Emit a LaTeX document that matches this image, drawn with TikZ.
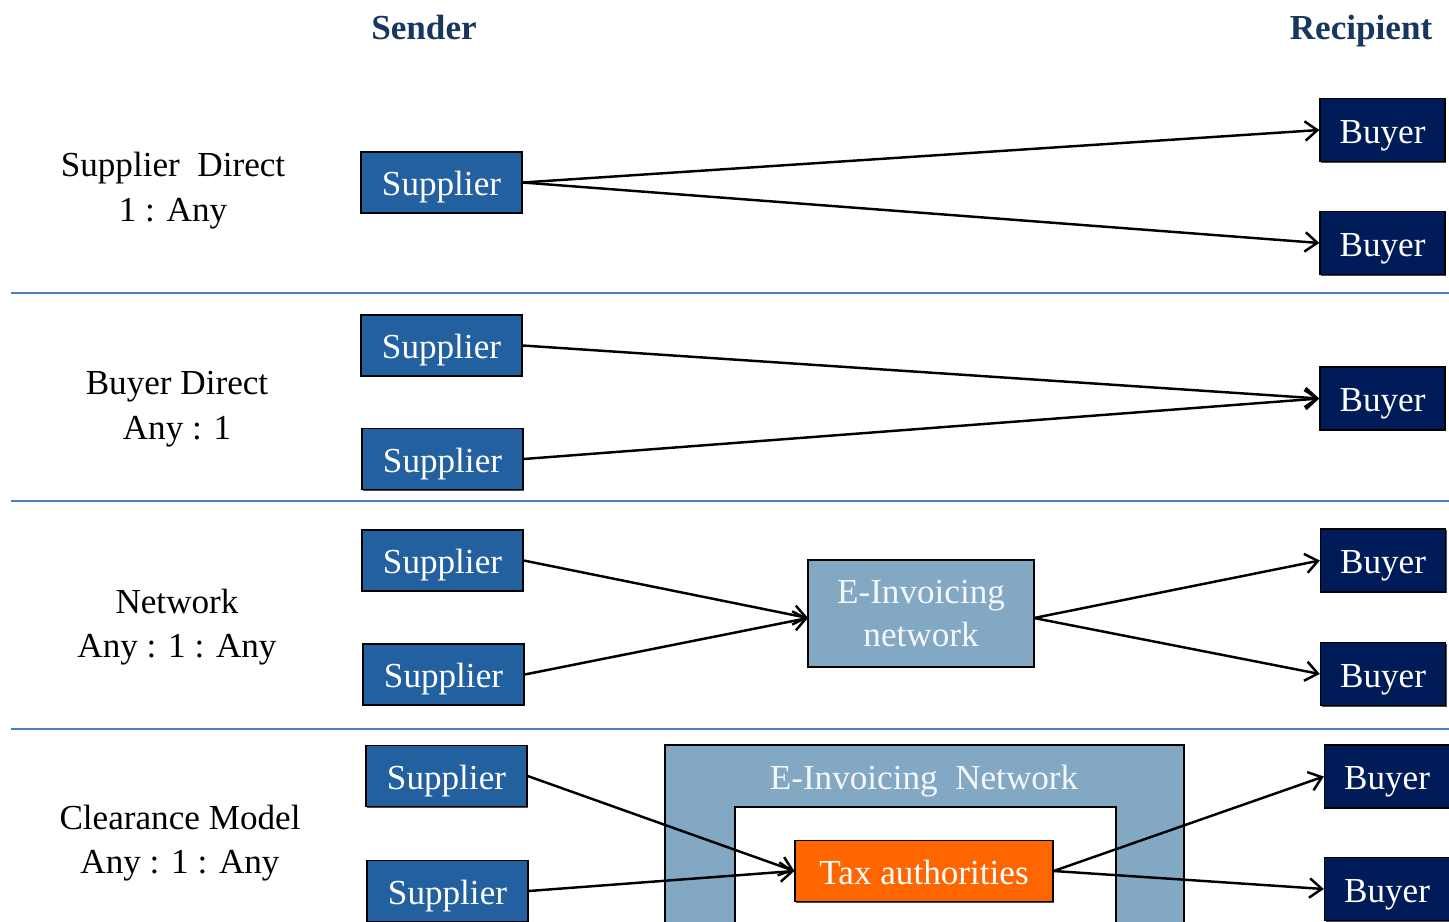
\documentclass[tikz,border=0pt]{standalone}
\usepackage{fontspec}
\setmainfont{Liberation Serif}
\usetikzlibrary{arrows.meta,shadows}
\definecolor{supblue}{HTML}{2360A0}
\definecolor{buyblue}{HTML}{001C58}
\definecolor{netblue}{HTML}{82A8C4}
\definecolor{taxorange}{HTML}{FF6600}
\definecolor{sepblue}{HTML}{4A7EBB}
\definecolor{headblue}{HTML}{17375E}
\tikzset{
  box/.style={draw=black, line width=0.8pt, text=white, inner sep=0pt,
    font=\fontsize{20}{24}\selectfont, text height=16pt, text depth=1pt,
    drop shadow={shadow xshift=0.7pt, shadow yshift=-0.7pt, opacity=0.7, fill=black}},
  supbox/.style={box, fill=supblue, minimum width=3.22cm, minimum height=1.22cm},
  buybox/.style={box, fill=buyblue, minimum width=2.5cm, minimum height=1.26cm},
  netbox/.style={box, fill=netblue, text=white!92!netblue, minimum width=4.52cm, minimum height=2.14cm, align=center, text height=, text depth=},
  taxbox/.style={box, fill=taxorange, minimum width=5.16cm, minimum height=1.22cm},
  rowlabel/.style={align=center, font=\fontsize{20}{25.5}\selectfont, inner sep=0pt},
  header/.style={font=\fontsize{20}{24}\selectfont\bfseries, text=headblue, inner sep=0pt, text height=14pt, text depth=4pt},
  sep/.style={draw=sepblue, line width=1.1pt},
  flow/.style={draw=black, line width=1.4pt, -{Straight Barb[length=7pt,width=11pt,line width=1.4pt]}},
}
\begin{document}
\begin{tikzpicture}[x=0.02cm,y=-0.02cm]
\useasboundingbox (0,0) rectangle (1449,922);
\clip (0,0) rectangle (1449,922);

% headers
\node[header] (hsend) at (424,31) {Sender};
\node[header] (hrec) at (1361,31) {Recipient};

% separators
\coordinate (s1a) at (11,293); \coordinate (s1b) at (1449,293);
\coordinate (s2a) at (11,501); \coordinate (s2b) at (1449,501);
\coordinate (s3a) at (11,729); \coordinate (s3b) at (1449,729);
\draw[sep] (s1a) -- (s1b);
\draw[sep] (s2a) -- (s2b);
\draw[sep] (s3a) -- (s3b);

% row labels
\node[rowlabel] (l1) at (173,191) {Supplier\ \ Direct\\1 : Any};
\node[rowlabel] (l2) at (177,409) {Buyer Direct\\Any : 1};
\node[rowlabel] (l3) at (177,627) {Network\\Any : 1 : Any};
\node[rowlabel] (l4) at (180,843) {Clearance Model\\Any : 1 : Any};

% row 1
\node[supbox] (s11) at (441.5,182.5) {Supplier};
\node[buybox] (b11) at (1382.5,130) {Buyer};
\node[buybox] (b12) at (1382.5,243) {Buyer};
\draw[flow] (s11.east) -- (b11.west);
\draw[flow] (s11.east) -- (b12.west);

% row 2
\node[supbox] (s21) at (441.5,345.5) {Supplier};
\node[supbox] (s22) at (442.5,459) {Supplier};
\node[buybox] (b21) at (1382.5,398.5) {Buyer};
\draw[flow] (s21.east) -- (b21.west);
\draw[flow] (s22.east) -- (b21.west);

% row 3
\node[supbox] (s31) at (442.5,560.5) {Supplier};
\node[supbox] (s32) at (443.5,674.5) {Supplier};
\node[netbox] (net) at (921,613.5) {E-Invoicing\\[1pt]network};
\node[buybox] (b31) at (1383,560.5) {Buyer};
\node[buybox] (b32) at (1383,674) {Buyer};
\coordinate (netw) at (808,618);
\coordinate (nete) at (1034,618);
\draw[flow] (s31.east) -- (netw);
\draw[flow] (s32.east) -- (netw);
\draw[flow] (nete) -- (b31.west);
\draw[flow] (nete) -- (b32.west);

% row 4
\draw[draw=black, line width=0.8pt, fill=netblue] (665,745) rectangle (1184,940);
\draw[draw=black, line width=0.8pt, fill=white] (735,807) rectangle (1116,940);
\node[text=white!92!netblue, font=\fontsize{20}{24}\selectfont, inner sep=0pt, text height=14pt, text depth=4pt] (netlabel) at (924,781) {E-Invoicing\ \ Network};
\node[supbox] (s41) at (446.5,776) {Supplier};
\node[supbox] (s42) at (447.5,891) {Supplier};
\node[taxbox] (tax) at (924,871) {Tax authorities};
\node[buybox] (b41) at (1387,776.5) {Buyer};
\node[buybox] (b42) at (1387,889) {Buyer};
\draw[flow] (s41.east) -- (tax.west);
\draw[flow] (s42.east) -- (tax.west);
\draw[flow] (tax.east) -- (b41.west);
\draw[flow] (tax.east) -- (b42.west);
\end{tikzpicture}
\end{document}
